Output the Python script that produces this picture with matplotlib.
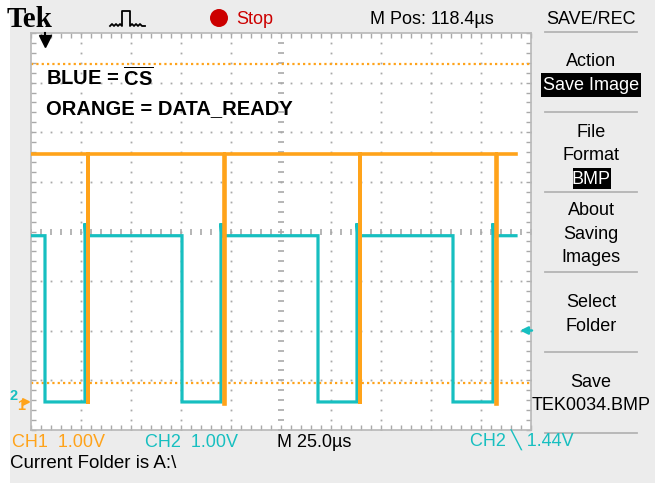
import numpy as np
import matplotlib.pyplot as plt
from matplotlib.lines import Line2D
from matplotlib.patches import Rectangle, Ellipse

plt.rcParams['font.family'] = ['Liberation Sans', 'DejaVu Sans']
plt.rcParams['mathtext.fontset'] = 'custom'
plt.rcParams['mathtext.bf'] = 'Liberation Sans:bold'
plt.rcParams['mathtext.rm'] = 'Liberation Sans'

W, H = 655, 483

# scope settings: 25 us/div, 1 V/div, 10 x 8 divisions
time_per_div = 25.0
n_xdiv, n_ydiv = 10, 8
gnd_div = 0.565          # ground marker height above bottom of screen (div)

# CH2 (blue) = CS, times in us, volts
cs_time = [0, 7, 7, 27, 27, 27.4, 75.5, 75.5, 95, 95, 95.4, 143.5, 143.5,
           163, 163, 163.4, 211, 211, 231, 231, 231.4, 242.5]
cs_volts = [3.35, 3.35, 0, 0, 3.6, 3.35, 3.35, 0, 0, 3.6, 3.35, 3.35, 0,
            0, 3.6, 3.35, 3.35, 0, 0, 3.6, 3.35, 3.35]

# CH1 (orange) = DATA_READY
dr_time = [0, 28.3, 28.3, 28.5, 28.5, 96.3, 96.3, 96.9, 96.9, 164.3, 164.3,
           164.5, 164.5, 232.3, 232.3, 232.9, 232.9, 242.5]
dr_volts = [5.0, 5.0, -0.05, -0.05, 5.0, 5.0, -0.05, -0.05, 5.0, 5.0, -0.05,
            -0.05, 5.0, 5.0, -0.05, -0.05, 5.0, 5.0]

cursor_volts = [6.81, 0.38]
trig_time = 7.0
trig_level = 1.44

orange = '#ffa31a'
cyan = '#17bfc0'
grid_c = '#a9a9a9'
bg = '#ececec'


def fx(x):
    return x / W


def fy(y):
    return 1 - y / H


fig = plt.figure(figsize=(6.55, 4.83), dpi=100, facecolor=bg)
fig.add_artist(Rectangle((0, 0), fx(10), 1, transform=fig.transFigure,
                         facecolor='white', edgecolor='none'))

ax = fig.add_axes([fx(31), fy(430), fx(531) - fx(31), fy(33) - fy(430)])
ax.set_facecolor('white')
ylo = -gnd_div
yhi = n_ydiv - gnd_div
ax.set_xlim(0, n_xdiv * time_per_div)
ax.set_ylim(ylo, yhi)

# graticule: dotted lines every division, 5 dots per division
sub_x = np.arange(0, n_xdiv * time_per_div + 0.1, time_per_div / 5)
sub_y = np.arange(0, n_ydiv + 0.01, 0.2) + ylo
for i in range(1, n_xdiv):
    if i == n_xdiv // 2:
        continue
    ax.plot(np.full_like(sub_y, i * time_per_div), sub_y, ls='none',
            marker='s', ms=1.3, mew=0, color=grid_c, zorder=1)
for j in range(1, n_ydiv):
    if j == n_ydiv // 2:
        continue
    ax.plot(sub_x, np.full_like(sub_x, ylo + j), ls='none',
            marker='s', ms=1.3, mew=0, color=grid_c, zorder=1)
# centre cross with tick marks
ax.plot(sub_x, np.full_like(sub_x, ylo + n_ydiv / 2), ls='none',
        marker='|', ms=4, mew=1.2, color=grid_c, zorder=1)
ax.plot(np.full_like(sub_y, n_xdiv / 2 * time_per_div), sub_y, ls='none',
        marker='_', ms=4.5, mew=1.2, color=grid_c, zorder=1)

ax.set_xticks([])
ax.set_yticks([])
ax.set_xticks(sub_x, minor=True)
ax.set_yticks(sub_y, minor=True)
ax.tick_params(which='minor', direction='in', length=3.5, width=1,
               color=grid_c, top=True, right=True, labelbottom=False,
               labelleft=False)
for s in ax.spines.values():
    s.set_color('#b8b8b8')
    s.set_linewidth(1.2)

# cursors
for cv in cursor_volts:
    ax.axhline(cv, color=orange, lw=1.6, ls=(0, (1, 1.4)), zorder=2)

# traces
ax.plot(cs_time, cs_volts, color=cyan, lw=2.3, solid_joinstyle='miter', zorder=3)
ax.plot(dr_time, dr_volts, color=orange, lw=2.6, solid_joinstyle='miter', zorder=4)

# trigger position arrow (top) and trigger level arrow (right)
ax.plot([trig_time, trig_time], [yhi, yhi - 0.15], color='black', lw=1.5,
        clip_on=False, zorder=5)
ax.plot([trig_time], [yhi - 0.17], marker='v', ms=8, color='black',
        clip_on=False, zorder=5)
ax.annotate('', xy=(244.5, trig_level), xytext=(250.5, trig_level),
            arrowprops=dict(arrowstyle='-|>', color=cyan, lw=1.8,
                            mutation_scale=11, shrinkA=0, shrinkB=0),
            annotation_clip=False)

# ground markers at left
ax.annotate('2', xy=(9, 0.12), xycoords=('figure pixels', 'data'),
            color=cyan, fontsize=10.5, va='center', fontweight='bold')
ax.annotate('1', xy=(17.5, -0.08), xycoords=('figure pixels', 'data'),
            color=orange, fontsize=10.5, va='center', fontweight='bold')
ax.annotate('', xy=(31, 0), xytext=(24, 0),
            xycoords=('figure pixels', 'data'),
            textcoords=('figure pixels', 'data'),
            arrowprops=dict(arrowstyle='-|>', color=orange, lw=1.6,
                            mutation_scale=10, shrinkA=0, shrinkB=0),
            annotation_clip=False)

# annotations inside screen
fig.text(fx(46), fy(86), r'BLUE = $\mathbf{\overline{CS}}$', fontsize=14.5,
         fontweight='bold', va='baseline')
fig.text(fx(46), fy(114), 'ORANGE = DATA_READY', fontsize=14.5,
         fontweight='bold', va='baseline')

# top status bar
fig.text(fx(7), fy(27), 'Tek', family=['Liberation Serif', 'DejaVu Serif'],
         fontsize=21, fontweight='bold', va='baseline')
icon_x = [110, 112, 114, 116, 118, 120, 122, 122, 130, 130, 132, 134, 136,
          138, 140, 142, 145]
icon_y = [26, 24, 26, 24, 26, 24, 26, 11, 11, 26, 24, 26, 24, 26, 24, 26, 26]
fig.add_artist(Line2D([fx(v) for v in icon_x], [fy(v) for v in icon_y],
                      color='black', lw=1.3, transform=fig.transFigure))
fig.add_artist(Ellipse((fx(219), fy(18)), 18 / W, 18 / H,
                       transform=fig.transFigure, facecolor='#cc0000',
                       edgecolor='none'))
fig.text(fx(236), fy(24), 'Stop', color='#cc0000', fontsize=13, va='baseline')
fig.text(fx(370), fy(24), 'M Pos: 118.4\u00b5s', fontsize=13, va='baseline')

# right-hand menu
mx = 591
fig.text(fx(mx), fy(24), 'SAVE/REC', fontsize=13, ha='center', va='baseline')
for sy in [32, 112, 192, 272, 352, 433]:
    fig.add_artist(Line2D([fx(545), fx(637)], [fy(sy), fy(sy)],
                          color='#b4b4b4', lw=1.3, transform=fig.transFigure))
fig.add_artist(Rectangle((fx(541), fy(97)), fx(641) - fx(541), fy(73) - fy(97),
                         transform=fig.transFigure, facecolor='black',
                         edgecolor='none'))
fig.add_artist(Rectangle((fx(573), fy(189)), fx(611) - fx(573), fy(168) - fy(189),
                         transform=fig.transFigure, facecolor='black',
                         edgecolor='none'))
menu_items = [('Action', 66, 'black'), ('Save Image', 90, 'white'),
              ('File', 137, 'black'), ('Format', 160, 'black'),
              ('BMP', 184, 'white'), ('About', 215, 'black'),
              ('Saving', 239, 'black'), ('Images', 262, 'black'),
              ('Select', 307, 'black'), ('Folder', 331, 'black'),
              ('Save', 387, 'black'), ('TEK0034.BMP', 410, 'black')]
for label, by, col in menu_items:
    fig.text(fx(mx), fy(by), label, fontsize=13, ha='center', va='baseline',
             color=col)

# bottom status bar
fig.text(fx(12), fy(447), 'CH1  1.00V', fontsize=13, color=orange, va='baseline')
fig.text(fx(145), fy(447), 'CH2  1.00V', fontsize=13, color=cyan, va='baseline')
fig.text(fx(277), fy(447), 'M 25.0\u00b5s', fontsize=13, va='baseline')
fig.text(fx(470), fy(447), 'CH2 \u2572 1.44V', fontsize=13, color=cyan,
         va='baseline')
fig.text(fx(10), fy(468), 'Current Folder is A:\\', fontsize=13.5, va='baseline')

fig.savefig('out.png', dpi=100, facecolor=fig.get_facecolor())
